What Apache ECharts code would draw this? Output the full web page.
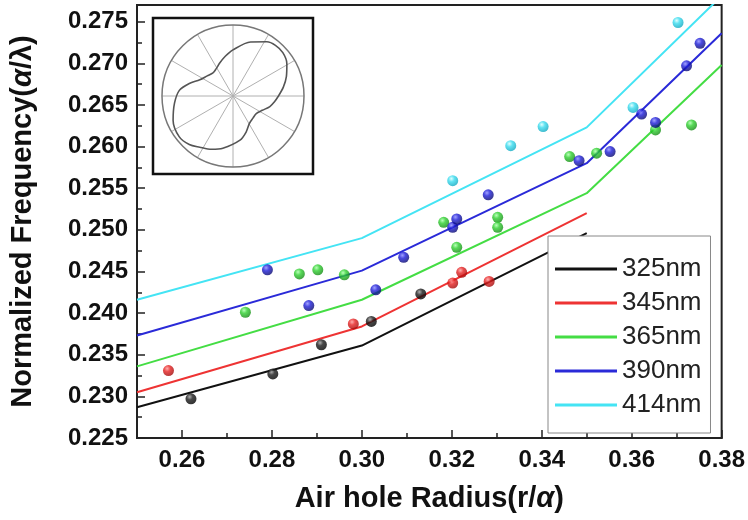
<!DOCTYPE html>
<html>
<head>
<meta charset="utf-8">
<title>Normalized Frequency vs Air hole Radius</title>
<script src="https://cdn.jsdelivr.net/npm/echarts@6/dist/echarts.min.js"></script>
<style>
html,body{margin:0;padding:0;background:#fff;}
#main{width:748px;height:520px;}
</style>
</head>
<body>
<div id="main"></div>
<script>
//坐标轴刻度
var xMajor = [0.26, 0.28, 0.30, 0.32, 0.34, 0.36, 0.38];
var xMinor = [0.27, 0.29, 0.31, 0.33, 0.35, 0.37];
var yMajor = [0.225, 0.230, 0.235, 0.240, 0.245, 0.250, 0.255, 0.260, 0.265, 0.270, 0.275];
var yMinor = [0.2275, 0.2325, 0.2375, 0.2425, 0.2475, 0.2525, 0.2575, 0.2625, 0.2675, 0.2725];

//图例（波长）
var waveNames  = ['325nm', '345nm', '365nm', '390nm', '414nm'];
var lineColors = ['#111111', '#ee3333', '#44dd44', '#2a2ad8', '#44e4f4'];

//拟合折线：x 断点及各波长的频率
var fitX   = [0.25, 0.30, 0.35, 0.38];
var fit325 = [0.2287, 0.2361, 0.2496];
var fit345 = [0.2305, 0.2384, 0.2520];
var fit365 = [0.2336, 0.2416, 0.2544, 0.2698];
var fit390 = [0.2373, 0.2451, 0.2580, 0.2736];
var fit414 = [0.2416, 0.2490, 0.2623, 0.2781];

//实验点 [r/a, a/λ]
var dots325 = [[0.2620, 0.2297], [0.2802, 0.2327], [0.2910, 0.2362], [0.3021, 0.2390], [0.3131, 0.2423]];
var dots345 = [[0.2570, 0.2331], [0.2981, 0.2387], [0.3202, 0.2436], [0.3222, 0.2449], [0.3283, 0.2438]];
var dots365 = [[0.2741, 0.2401], [0.2861, 0.2447], [0.2902, 0.2452], [0.2961, 0.2446], [0.3182, 0.2509],
               [0.3211, 0.2479], [0.3302, 0.2515], [0.3302, 0.2503], [0.3462, 0.2588], [0.3522, 0.2592],
               [0.3653, 0.2620], [0.3733, 0.2626]];
var dots390 = [[0.2790, 0.2452], [0.2882, 0.2409], [0.3031, 0.2428], [0.3093, 0.2467], [0.3202, 0.2503],
               [0.3211, 0.2513], [0.3281, 0.2542], [0.3483, 0.2583], [0.3552, 0.2594], [0.3622, 0.2639],
               [0.3653, 0.2629], [0.3722, 0.2697], [0.3752, 0.2724]];
var dots414 = [[0.3202, 0.2559], [0.3331, 0.2601], [0.3403, 0.2624], [0.3603, 0.2647], [0.3703, 0.2749]];

//小图：极坐标曲线（角度/相对半径）
var insetAngle  = [0, 10, 20, 31, 41, 50, 58, 72, 90, 101, 112, 122, 131, 142, 154, 164, 174, 187, 202, 217, 228, 237, 248, 259, 279, 290, 301, 312, 323, 334, 344, 352, 360];
var insetRadius = [0.64, 0.72, 0.80, 0.885, 0.93, 0.93, 0.90, 0.80, 0.65, 0.57, 0.50, 0.45, 0.43, 0.46, 0.52, 0.64, 0.76, 0.83, 0.91, 0.95, 0.92, 0.86, 0.81, 0.75, 0.63, 0.54, 0.45, 0.42, 0.41, 0.46, 0.54, 0.59, 0.64];

var fitArr  = [fit325, fit345, fit365, fit390, fit414];
var dotsArr = [dots325, dots345, dots365, dots390, dots414];
//球形点的渐变色 [高光, 本色, 暗部]
var ballColors = [['#9a9a9a', '#1a1a1a', '#000000'], ['#ff9a9a', '#e62020', '#a00808'], ['#a8ffa8', '#2ed02e', '#138a13'],
                  ['#8a8aff', '#1c1cd8', '#08086e'], ['#d8ffff', '#38dcef', '#10a8c0']];

var fontFam = 'Liberation Sans, Arial, sans-serif';

var myChart = echarts.init(document.getElementById('main'), null, {renderer: 'canvas'});

var series = [];
for (var i = 0; i < waveNames.length; i++) {
	var lineData = [];
	for (var j = 0; j < fitArr[i].length; j++) {
		lineData.push([fitX[j], fitArr[i][j]]);
	}
	series.push({
		name: waveNames[i], type: 'line', xAxisIndex: 0, yAxisIndex: 0,
		data: lineData, symbol: 'none', z: 3,
		itemStyle: {color: lineColors[i]},
		lineStyle: {color: lineColors[i], width: 2}
	});
}
for (var i = 0; i < waveNames.length; i++) {
	series.push({
		name: waveNames[i] + ' pts', type: 'scatter', xAxisIndex: 0, yAxisIndex: 0,
		data: dotsArr[i], symbolSize: 11, z: 4,
		itemStyle: {
			color: new echarts.graphic.RadialGradient(0.38, 0.32, 0.7, [
				{offset: 0, color: ballColors[i][0]},
				{offset: 0.4, color: ballColors[i][1]},
				{offset: 1, color: ballColors[i][2]}
			])
		}
	});
}
//小图曲线
var insetData = [];
for (var k = 0; k < insetAngle.length; k++) {
	insetData.push([insetRadius[k], insetAngle[k]]);
}
series.push({
	name: 'inset', type: 'line', coordinateSystem: 'polar', polarIndex: 0,
	data: insetData, smooth: 0.3, symbol: 'none', z: 6,
	lineStyle: {color: '#555555', width: 1.6}
});

var option = {
	animation: false,
	backgroundColor: '#ffffff',
	grid: {left: 136, right: 26, top: 5, bottom: 82, show: true, borderColor: '#222', borderWidth: 2, backgroundColor: 'transparent'},
	xAxis: [
		{
			type: 'value', min: 0.25, max: 0.38, position: 'bottom',
			name: 'Air hole Radius(r/{i|α})', nameLocation: 'middle', nameGap: 46,
			nameTextStyle: {fontFamily: fontFam, fontSize: 29, fontWeight: 'bold', color: '#111',
				rich: {i: {fontFamily: fontFam, fontSize: 29, fontWeight: 'bold', fontStyle: 'italic', color: '#111'}}},
			axisLine: {show: true, lineStyle: {color: '#222', width: 2}},
			axisTick: {show: true, inside: true, length: 8, customValues: xMajor, lineStyle: {color: '#222', width: 1.5}},
			axisLabel: {customValues: xMajor, margin: 10, fontFamily: fontFam, fontSize: 24, fontWeight: 'bold', color: '#111',
				formatter: function (v) { return v.toFixed(2); }},
			splitLine: {show: false}
		},
		{
			type: 'value', min: 0.25, max: 0.38, position: 'bottom',
			axisLine: {show: false},
			axisTick: {show: true, inside: true, length: 5, customValues: xMinor, lineStyle: {color: '#222', width: 1.5}},
			axisLabel: {show: false},
			splitLine: {show: false}
		}
	],
	yAxis: [
		{
			type: 'value', min: 0.225, max: 0.277, position: 'left',
			name: 'Normalized Frequency({i|α}/λ)', nameLocation: 'middle', nameGap: 100, nameRotate: 90,
			nameTextStyle: {fontFamily: fontFam, fontSize: 29, fontWeight: 'bold', color: '#111',
				rich: {i: {fontFamily: fontFam, fontSize: 29, fontWeight: 'bold', fontStyle: 'italic', color: '#111'}}},
			axisLine: {show: true, lineStyle: {color: '#222', width: 2}},
			axisTick: {show: true, inside: true, length: 8, customValues: yMajor, lineStyle: {color: '#222', width: 1.5}},
			axisLabel: {customValues: yMajor, margin: 9, fontFamily: fontFam, fontSize: 24, fontWeight: 'bold', color: '#111',
				formatter: function (v) { return v.toFixed(3); }},
			splitLine: {show: false}
		},
		{
			type: 'value', min: 0.225, max: 0.277, position: 'left',
			axisLine: {show: false},
			axisTick: {show: true, inside: true, length: 5, customValues: yMinor, lineStyle: {color: '#222', width: 1.5}},
			axisLabel: {show: false},
			splitLine: {show: false}
		}
	],
	polar: {center: [233, 96], radius: 71},
	angleAxis: {
		type: 'value', min: 0, max: 360, interval: 30, startAngle: 0, clockwise: false,
		axisLine: {show: true, lineStyle: {color: '#777', width: 1.5}},
		axisTick: {show: false}, axisLabel: {show: false},
		splitLine: {show: true, lineStyle: {color: '#b0b0b0', width: 1}}
	},
	radiusAxis: {
		type: 'value', min: 0, max: 1,
		axisLine: {show: false}, axisTick: {show: false}, axisLabel: {show: false}, splitLine: {show: false}
	},
	legend: {
		data: waveNames, orient: 'vertical', left: 548, top: 236,
		padding: [20, 9, 15, 7], itemGap: 8, itemWidth: 62, itemHeight: 3, icon: 'rect',
		borderColor: '#888', borderWidth: 1, backgroundColor: '#fff', z: 10,
		textStyle: {fontFamily: fontFam, fontSize: 26, color: '#222'}
	},
	graphic: [
		//小图外框
		{type: 'rect', z: 5, shape: {x: 153, y: 18, width: 160, height: 156},
			style: {fill: 'none', stroke: '#111', lineWidth: 2.5}}
	],
	series: series
};
myChart.setOption(option);
</script>
</body>
</html>
